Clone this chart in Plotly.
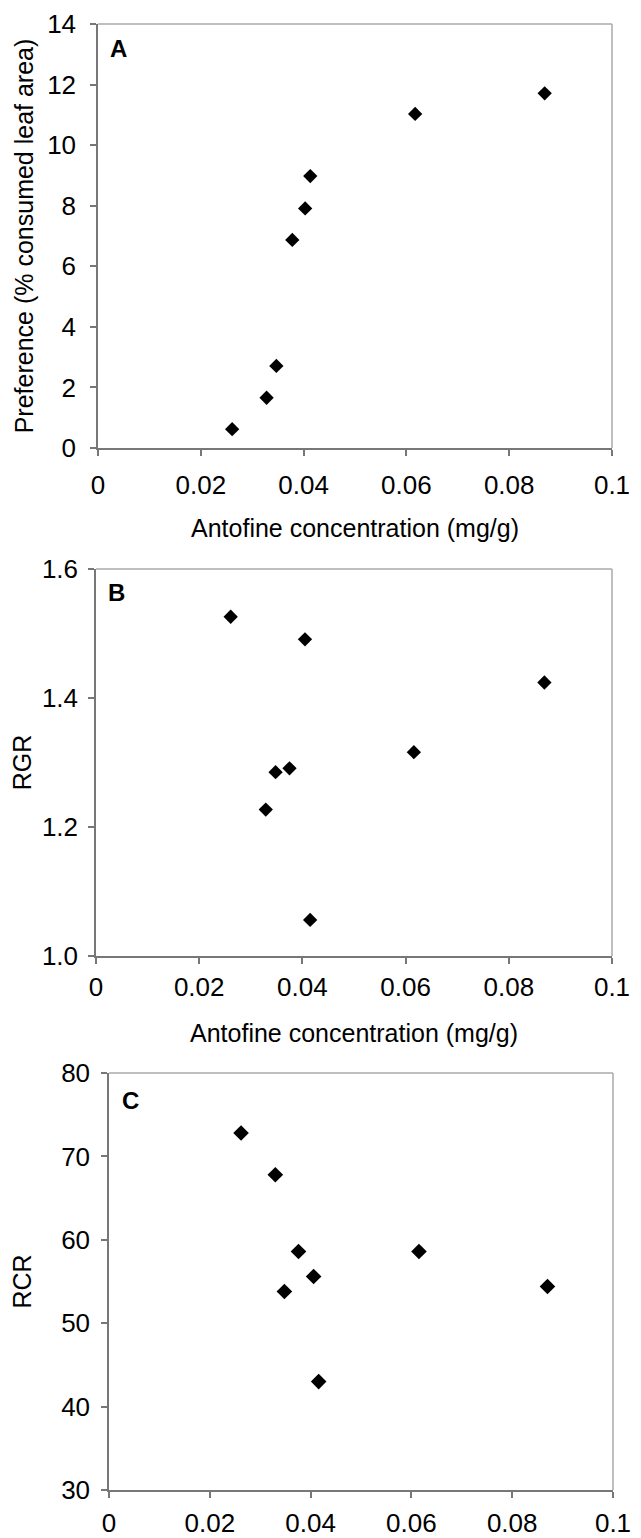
import plotly.graph_objects as go

# Data
conc_a = [0.0261, 0.0328, 0.0347, 0.0378, 0.0403, 0.0413, 0.0617, 0.0869]
pref_a = [0.62, 1.66, 2.71, 6.87, 7.91, 8.98, 11.03, 11.71]

conc_b = [0.0261, 0.0329, 0.0348, 0.0375, 0.0405, 0.0415, 0.0616, 0.0869]
rgr_b = [1.526, 1.227, 1.285, 1.291, 1.491, 1.056, 1.316, 1.424]

conc_c = [0.0262, 0.0330, 0.0348, 0.0376, 0.0406, 0.0416, 0.0615, 0.0870]
rcr_c = [72.8, 67.8, 53.8, 58.6, 55.6, 43.0, 58.6, 54.4]

x_ticks = [0, 0.02, 0.04, 0.06, 0.08, 0.1]
x_ticklabels = ["0", "0.02", "0.04", "0.06", "0.08", "0.1"]
y_ticks_a = [0, 2, 4, 6, 8, 10, 12, 14]
y_ticks_b = [1.0, 1.2, 1.4, 1.6]
y_ticklabels_b = ["1.0", "1.2", "1.4", "1.6"]
y_ticks_c = [30, 40, 50, 60, 70, 80]

# the page body has an 8px margin, so the figure is drawn 8px in from the corner
OFF = 8
W, H = 641 - OFF, 1538 - OFF
FONT = "Liberation Sans, Arial, sans-serif"
DARK = "#777777"
LIGHT = "#aaaaaa"


def px_dom_x(l, r):
    return [(l - OFF) / W, (r - OFF) / W]


def px_dom_y(top, bottom):
    return [1 - (bottom - OFF) / H, 1 - (top - OFF) / H]


fig = go.Figure()

panels = [
    dict(x=conc_a, y=pref_a, xd=px_dom_x(98, 612), yd=px_dom_y(24, 448),
         yr=[0, 14], yt=y_ticks_a, ytl=[str(v) for v in y_ticks_a],
         ylab=9, ytitle="Preference (% consumed leaf area)", ysize=25, ystand=6,
         xtitle="Antofine concentration (mg/g)", xlab=7, xstand=21,
         letter="A", lx=0.039, ly=0.943, msize=11),
    dict(x=conc_b, y=rgr_b, xd=px_dom_x(96, 612), yd=px_dom_y(569, 956),
         yr=[1.0, 1.6], yt=y_ticks_b, ytl=y_ticklabels_b,
         ylab=5, ytitle="RGR", ysize=25, ystand=10,
         xtitle="Antofine concentration (mg/g)", xlab=1, xstand=24,
         letter="B", lx=0.04, ly=0.938, msize=11),
    dict(x=conc_c, y=rcr_c, xd=px_dom_x(109, 613), yd=px_dom_y(1073, 1490),
         yr=[30, 80], yt=y_ticks_c, ytl=[str(v) for v in y_ticks_c],
         ylab=6, ytitle="RCR", ysize=25, ystand=28,
         xtitle=None, xlab=3, xstand=0,
         letter="C", lx=0.043, ly=0.933, msize=12),
]

for i, p in enumerate(panels, start=1):
    xa = "x" if i == 1 else f"x{i}"
    ya = "y" if i == 1 else f"y{i}"
    fig.add_trace(go.Scatter(
        x=p["x"], y=p["y"], mode="markers", xaxis=xa, yaxis=ya,
        marker=dict(symbol="diamond", size=p["msize"], color="black"),
        showlegend=False,
    ))
    xkey = "xaxis" if i == 1 else f"xaxis{i}"
    ykey = "yaxis" if i == 1 else f"yaxis{i}"
    xaxis = dict(
        domain=p["xd"], anchor=ya, range=[0, 0.1], automargin=False,
        tickvals=x_ticks, ticktext=x_ticklabels,
        showgrid=False, zeroline=False,
        showline=True, linecolor=DARK, linewidth=1.5,
        ticks="outside", ticklen=6, tickcolor=DARK, tickwidth=1.5,
        ticklabelstandoff=p["xlab"], ticklabeloverflow="allow",
        tickfont=dict(family=FONT, size=26, color="black"),
    )
    if p["xtitle"]:
        xaxis["title"] = dict(text=p["xtitle"], font=dict(family=FONT, size=25, color="black"),
                              standoff=p["xstand"])
    yaxis = dict(
        domain=p["yd"], anchor=xa, range=p["yr"], automargin=False,
        tickvals=p["yt"], ticktext=p["ytl"],
        showgrid=False, zeroline=False,
        showline=True, linecolor=DARK, linewidth=1.5,
        ticks="outside", ticklen=6, tickcolor=DARK, tickwidth=1.5,
        ticklabelstandoff=p["ylab"], ticklabeloverflow="allow",
        tickfont=dict(family=FONT, size=26, color="black"),
        title=dict(text=p["ytitle"], font=dict(family=FONT, size=p["ysize"], color="black"),
                   standoff=p["ystand"]),
    )
    fig.update_layout({xkey: xaxis, ykey: yaxis})
    # top and right frame lines (lighter gray)
    fig.add_shape(type="line", xref=f"{xa} domain", yref=f"{ya} domain",
                  x0=0, x1=1, y0=1, y1=1, line=dict(color=LIGHT, width=1.5))
    fig.add_shape(type="line", xref=f"{xa} domain", yref=f"{ya} domain",
                  x0=1, x1=1, y0=0, y1=1, line=dict(color=LIGHT, width=1.5))
    fig.add_annotation(text=f"<b>{p['letter']}</b>", xref=f"{xa} domain", yref=f"{ya} domain",
                       x=p["lx"], y=p["ly"], xanchor="center", yanchor="middle", showarrow=False,
                       font=dict(family=FONT, size=24, color="black"))

fig.update_layout(
    width=W, height=H,
    margin=dict(l=0, r=0, t=0, b=0),
    plot_bgcolor="white", paper_bgcolor="white",
)

fig.write_html("out.html")
